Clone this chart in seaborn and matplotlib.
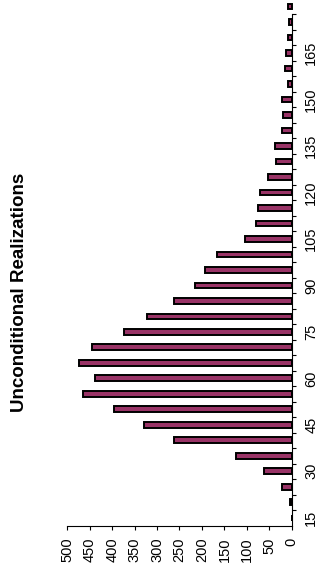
import matplotlib
matplotlib.use("Agg")
import matplotlib.pyplot as plt
import seaborn as sns
import pandas as pd
import numpy as np

# Histogram of realizations: bin centres and counts
bins = [15, 20, 25, 30, 35, 40, 45, 50, 55, 60, 65, 70, 75, 80, 85, 90, 95,
        100, 105, 110, 115, 120, 125, 130, 135, 140, 145, 150, 155, 160, 165,
        170, 175, 180]
counts = [0, 4, 21, 61, 125, 263, 330, 395, 466, 439, 475, 446, 373, 323,
          263, 216, 193, 166, 104, 79, 76, 70, 52, 35, 37, 22, 19, 22, 8, 14,
          13, 8, 6, 8]

count_ticks = [0, 50, 100, 150, 200, 250, 300, 350, 400, 450, 500]
bin_labels = [15, 30, 45, 60, 75, 90, 105, 120, 135, 150, 165]
title = "Unconditional Realizations"

sns.set_theme(style="white")
plt.rcParams["font.family"] = ["Liberation Sans", "DejaVu Sans"]

fig = plt.figure(figsize=(3.22, 5.78), dpi=100)
ax = fig.add_axes([0.2090, 0.0908, 0.6969, 0.8845])

df = pd.DataFrame({"bin": bins, "count": counts})
sns.barplot(data=df, x="count", y="bin", orient="h", native_scale=True,
            width=0.37, color="#993366", saturation=1, edgecolor="black",
            linewidth=1.4, ax=ax)
for p in ax.patches:
    p.set_clip_on(False)

# count axis runs right-to-left, bins run bottom-to-top
ax.set_xlim(500, 0)
ax.set_ylim(12.5, 177.5)
ax.set_xlabel("")
ax.set_ylabel("")

ax.set_xticks(count_ticks)
ax.set_xticklabels([str(v) for v in count_ticks], rotation=90)
ax.tick_params(axis="x", bottom=True, direction="out", length=2.6, width=0.8,
               pad=6.0, labelsize=10.5, color="black", labelcolor="black")

ax.yaxis.tick_right()
ax.set_yticks(bin_labels)
ax.set_yticklabels([str(v) for v in bin_labels], rotation=90, va="center")
ax.set_yticks(np.arange(17.5, 178, 5), minor=True)
ax.tick_params(axis="y", which="major", right=True, left=False, length=0,
               pad=9, labelsize=10.5, labelcolor="black")
ax.tick_params(axis="y", which="minor", right=True, left=False,
               direction="out", length=2.6, width=0.8, color="black")

for side in ["left", "top"]:
    ax.spines[side].set_visible(False)
for side in ["right", "bottom"]:
    ax.spines[side].set_visible(True)
    ax.spines[side].set_color("black")
    ax.spines[side].set_linewidth(0.8)

fig.text(19.5 / 322, 1 - 292 / 578, title, rotation=90, ha="center",
         va="center", fontsize=13.5, fontweight="bold", color="black")

fig.savefig("out.png", dpi=100)
